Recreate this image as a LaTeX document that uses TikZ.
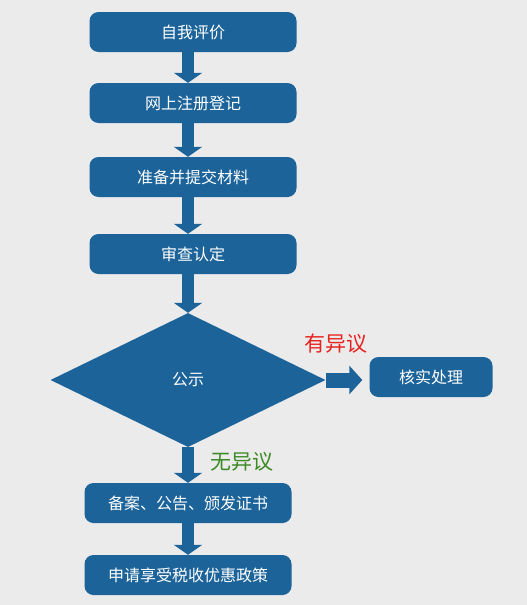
\documentclass[tikz,border=0pt]{standalone}
\usepackage{fontspec}
\setmainfont{Noto Sans CJK SC}
\usepackage{xcolor}
\usepackage{tikz}
\usetikzlibrary{shapes,arrows.meta,positioning,calc}

\definecolor{stepblue}{HTML}{1B6399}
\definecolor{pagegray}{HTML}{EBEBEB}
\definecolor{objred}{HTML}{E8231F}
\definecolor{okgreen}{HTML}{3B8A25}

\tikzset{
    stepbox/.style={fill=stepblue, rounded corners=9pt, text=white, minimum width=207pt, minimum height=40pt, inner sep=0pt, font=\fontsize{16}{19}\selectfont},
    flowarrow/.style={draw=stepblue, line width=12pt, -{Triangle[width=28pt,length=10pt]}},
    sidearrow/.style={draw=stepblue, line width=15pt, -{Triangle[width=28pt,length=13pt]}},
}

\begin{document}
\begin{tikzpicture}[x=1pt,y=-1pt]
    \fill [pagegray] (0,0) rectangle (527,605); % Background
    \useasboundingbox (0,0) rectangle (527,605);

    \node [stepbox] (selfeval) at (193,32) {自我评价};
    \node [stepbox] (register) at (193,103) {网上注册登记};
    \node [stepbox] (submit) at (193,177) {准备并提交材料};
    \node [stepbox] (review) at (193,254) {审查认定};
    \node [diamond, fill=stepblue, text=white, inner sep=0pt, aspect=2.05, minimum width=275pt, minimum height=134pt, font=\fontsize{16}{19}\selectfont] (publicity) at (188,380) {公示};
    \node [stepbox, minimum width=123pt] (verify) at (431,377) {核实处理};
    \node [stepbox] (record) at (188,503) {备案、公告、颁发证书};
    \node [stepbox] (apply) at (188,575) {申请享受税收优惠政策};

    \draw [flowarrow] (selfeval.south -| publicity.north) -- (register.north -| publicity.north);
    \draw [flowarrow] (register.south -| publicity.north) -- (submit.north -| publicity.north);
    \draw [flowarrow] (submit.south -| publicity.north) -- (review.north -| publicity.north);
    \draw [flowarrow] (review.south -| publicity.north) -- (publicity.north);
    \draw [flowarrow] (publicity.south) -- (record.north);
    \draw [flowarrow] (record.south) -- (apply.north);
    \draw [sidearrow, shorten >=7pt] (publicity.east) -- (publicity.east -| verify.west);

    \node [text=objred, font=\fontsize{21}{25}\selectfont] (objection) at (336,344) {有异议};
    \node [text=okgreen, font=\fontsize{21}{25}\selectfont] (noobjection) at (242,462) {无异议};
\end{tikzpicture}
\end{document}
